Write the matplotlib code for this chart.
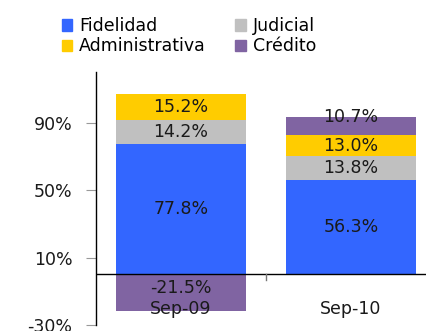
import matplotlib.pyplot as plt
from matplotlib.patches import Patch

# stacked shares by claim type
periods = ["Sep-09", "Sep-10"]
fidelidad = [77.8, 56.3]
judicial = [14.2, 13.8]
administrativa = [15.2, 13.0]
credito = [-21.5, 10.7]

yticks = [-30, 10, 50, 90]

c_fid = "#3366FF"
c_jud = "#C0C0C0"
c_adm = "#FFCC00"
c_cre = "#8064A2"

fig = plt.figure(figsize=(4.27, 3.31), dpi=100)
ax = fig.add_axes([0.2248, 0.0181, 0.7752, 0.763])

x = list(range(len(periods)))
w = 0.77
txt = "#1a1a1a"
fs = 12.5

for i in x:
    base = 0.0
    segs = [(fidelidad[i], c_fid), (judicial[i], c_jud), (administrativa[i], c_adm)]
    for v, c in segs:
        ax.bar(i, v, w, bottom=base, color=c, edgecolor="none")
        ax.text(i, base + v / 2, f"{v:.1f}%", ha="center", va="center",
                fontsize=fs, color=txt)
        base += v
    v = credito[i]
    if v < 0:
        ax.bar(i, v, w, bottom=0, color=c_cre, edgecolor="none")
        ax.text(i, v / 2 + 3, f"{v:.1f}%", ha="center", va="center",
                fontsize=fs, color=txt)
    else:
        ax.bar(i, v, w, bottom=base, color=c_cre, edgecolor="none")
        ax.text(i, base + v - 0.5, f"{v:.1f}%", ha="center", va="center",
                fontsize=fs, color=txt)

# category labels sit under the zero line
for i, p in zip(x, periods):
    ax.text(i, -20.5, p, ha="center", va="center", fontsize=fs, color=txt)

ax.axhline(0, color="black", lw=1)
ax.set_xlim(-0.5, 1.447)
ax.set_ylim(-30, 120)
ax.set_yticks(yticks)
ax.set_yticklabels([f"{t}%" for t in yticks], fontsize=fs, color=txt)
ax.tick_params(axis="y", direction="out", length=7, color="#999999", pad=10)
ax.set_xticks([0.5])
ax.set_xticklabels([""])
ax.tick_params(axis="x", length=0)
for s in ["top", "right", "bottom"]:
    ax.spines[s].set_visible(False)
ax.spines["left"].set_color("black")
ax.spines["left"].set_linewidth(1)
# small divider tick between the categories
ax.plot([0.5, 0.5], [0, -3.2], color="#777777", lw=1, clip_on=False)

handles = [Patch(color=c_fid, label="Fidelidad"),
           Patch(color=c_adm, label="Administrativa"),
           Patch(color=c_jud, label="Judicial"),
           Patch(color=c_cre, label="Crédito")]
fig.legend(handles=handles, ncol=2, loc="upper left",
           bbox_to_anchor=(0.1156, 0.985), frameon=False, fontsize=fs,
           handlelength=0.6, handleheight=0.6, handletextpad=0.4,
           columnspacing=1.7, labelspacing=0.12, borderpad=0.2)

fig.savefig("out.png", dpi=100)
